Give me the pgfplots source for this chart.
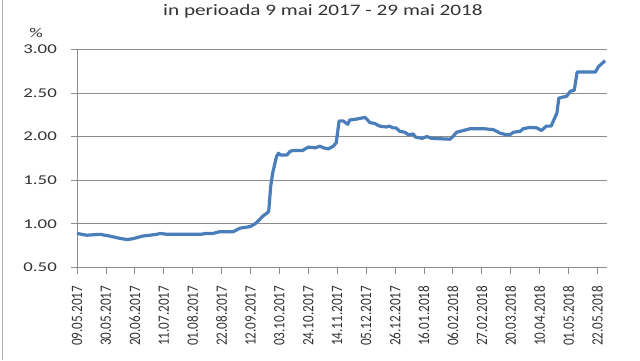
\documentclass[border=0pt]{standalone}
\usepackage{fontspec}
\setmainfont{Carlito}[FakeStretch=1.4]
\newfontfamily\plainfont{Carlito}
\newfontfamily\titlefont{Carlito}[FakeStretch=1.33]
\usepackage{graphicx}
\usepackage{pgfplots}
\pgfplotsset{compat=1.18}
\definecolor{lineblue}{HTML}{4A7EBB}
\definecolor{gridgray}{HTML}{8C8C8C}
\definecolor{textgray}{HTML}{333333}
\newcommand\sx[1]{\scalebox{1}[1.2]{#1}}
\begin{document}
\begin{tikzpicture}[x=1bp,y=1bp]
\useasboundingbox (-77,-92.5) rectangle (563,267.5);
\fill[white] (-77,-92.5) rectangle (563,267.5);
\draw[gridgray!70, line width=0.8bp] (-75,-92.5) -- (-75,267.5);
\begin{axis}[
  at={(0,0)}, anchor=south west,
  scale only axis, width=530bp, height=218.2bp,
  xmin=0, xmax=275, ymin=0.5, ymax=3.0,
  axis x line=bottom, axis y line=left,
  axis line style={-, gridgray, line width=0.8bp},
  tick align=outside, major tick length=6bp,
  tick style={gridgray, line width=0.8bp},
  xtick={0,15,...,270},
  xticklabels={\sx{09.05.2017},\sx{30.05.2017},\sx{20.06.2017},\sx{11.07.2017},\sx{01.08.2017},\sx{22.08.2017},\sx{12.09.2017},\sx{03.10.2017},\sx{24.10.2017},\sx{14.11.2017},\sx{05.12.2017},\sx{26.12.2017},\sx{16.01.2018},\sx{06.02.2018},\sx{27.02.2018},\sx{20.03.2018},\sx{10.04.2018},\sx{01.05.2018},\sx{22.05.2018}},
  xticklabel style={rotate=90, anchor=east, text=textgray, font=\plainfont\fontsize{13.2}{14}\selectfont, inner sep=0bp, xshift=-12bp},
  ytick={0.5,1,1.5,2,2.5,3},
  yticklabel={\pgfmathprintnumber[fixed,fixed zerofill,precision=2]{\tick}},
  /pgf/number format/assume math mode=true,
  yticklabel style={text=textgray, font=\fontsize{13.5}{14}\selectfont, inner sep=0bp, anchor=east, xshift=-14bp},
  ymajorgrids, grid style={gridgray, line width=0.8bp},
  clip=false,
]
\addplot[lineblue, line width=3.2bp, line join=round] coordinates {
(0,0.89) (5,0.87) (12,0.88) (17,0.86) (22,0.835) (26,0.82) (29,0.83) (34,0.86)
(41.5,0.88) (43,0.89) (47,0.88) (64,0.88) (67,0.89) (70.5,0.89) (74,0.91) (81,0.91)
(84.5,0.95) (90,0.97) (93,1.01) (96.5,1.09) (99,1.13) (99.5,1.15) (100.5,1.43) (101.5,1.58)
(103.5,1.77) (104.5,1.81) (105.5,1.79) (109,1.79) (110.5,1.83) (112,1.84) (117,1.84)
(120,1.88) (123.5,1.87) (126,1.89) (128,1.87) (130.5,1.86) (133,1.89) (134.5,1.93)
(136,2.18) (138,2.18) (140.5,2.14) (141.5,2.19) (145,2.20) (149.5,2.22) (152,2.16)
(154.5,2.15) (157,2.12) (160.5,2.11) (162,2.12) (164,2.10) (165.5,2.10) (167.5,2.06)
(170,2.05) (172,2.02) (174.5,2.03) (175.5,1.995) (179,1.98) (181.5,2.00) (184,1.98)
(193.5,1.97) (195,2.00) (197,2.05) (200.5,2.07) (204,2.09) (211,2.09) (216,2.08)
(219.5,2.04) (223,2.02) (224.5,2.02) (226.5,2.05) (230,2.06) (231.5,2.09) (235,2.105)
(238.5,2.10) (241,2.07) (243.5,2.12) (246,2.12) (249,2.27) (250,2.44) (251.5,2.45)
(254,2.46) (256,2.52) (258,2.53) (259.5,2.74) (262,2.74) (266,2.74) (269,2.74)
(270.5,2.80) (274,2.87)
};
\end{axis}
\node[anchor=base, text=textgray, font=\titlefont\fontsize{16}{17}\selectfont, inner sep=0] at (246,251.8) {in perioada 9 mai 2017 - 29 mai 2018};
\node[anchor=base, text=textgray, font=\fontsize{13.5}{14}\selectfont, inner sep=0] at (-41,230) {\%};
\end{tikzpicture}
\end{document}
